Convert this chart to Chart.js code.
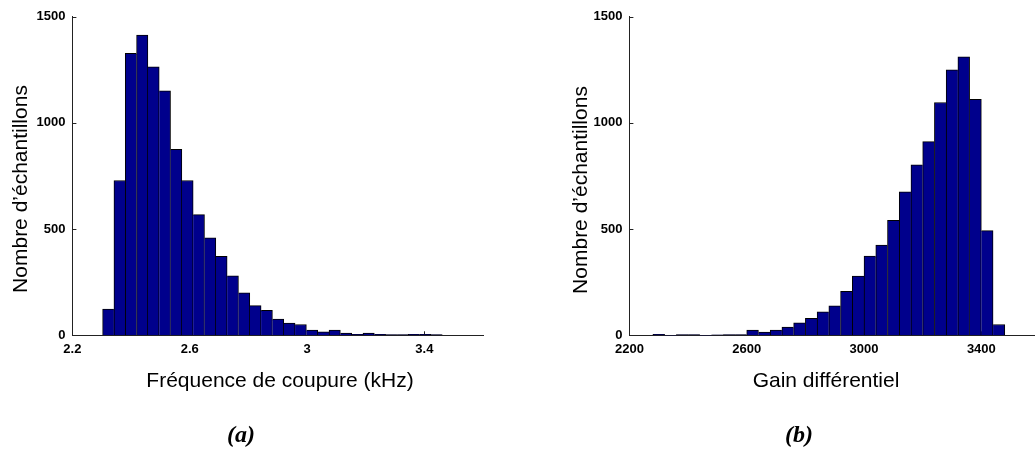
<!DOCTYPE html>
<html>
<head>
<meta charset="utf-8">
<script src="https://cdn.jsdelivr.net/npm/chart.js@4.4.0/dist/chart.umd.min.js"></script>
<style>
  html, body { margin: 0; padding: 0; background: #fff; overflow: hidden; width: 1035px; height: 455px; }
  #wrap { position: relative; width: 1035px; height: 455px; overflow: hidden; }
  canvas { position: absolute; top: 0; }
  #cA { left: 0; }
  #cB { left: 557px; }
</style>
</head>
<body>
<div id="wrap">
  <canvas id="cA" width="500" height="455"></canvas>
  <canvas id="cB" width="483" height="455"></canvas>
</div>
<script>
// (a) cutoff frequency histogram: bin centres (kHz) and sample counts
const binsA = [2.3223, 2.3609, 2.3995, 2.4381, 2.4767, 2.5153, 2.5539, 2.5925, 2.6311, 2.6697,
               2.7083, 2.7469, 2.7855, 2.8241, 2.8627, 2.9013, 2.9399, 2.9785, 3.0171, 3.0557,
               3.0943, 3.1329, 3.1715, 3.2101, 3.2487, 3.2873, 3.3259, 3.3645, 3.4031, 3.4417];
const countsA = [124, 729, 1327, 1414, 1264, 1151, 876, 729, 568, 459,
                 372, 280, 200, 140, 117, 76, 58, 51, 24, 16,
                 24, 11, 4, 11, 4, 3, 3, 4, 4, 3];
const xTicksA = [2.2, 2.6, 3, 3.4];

// (b) differential gain histogram: bin centres and sample counts
const binsB = [2300, 2340, 2380, 2420, 2460, 2500, 2540, 2580, 2620, 2660,
               2700, 2740, 2780, 2820, 2860, 2900, 2940, 2980, 3020, 3060,
               3100, 3140, 3180, 3220, 3260, 3300, 3340, 3380, 3420, 3460];
const countsB = [4, 0, 3, 3, 0, 2, 3, 3, 25, 15,
                 25, 39, 59, 80, 111, 139, 207, 279, 373, 425,
                 541, 675, 803, 912, 1096, 1250, 1311, 1111, 493, 51];
const xTicksB = [2200, 2600, 3000, 3400];

const yTicks = [0, 500, 1000, 1500];

const yTitle = "Nombre d’échantillons";
const xTitleA = "Fréquence de coupure (kHz)";
const xTitleB = "Gain différentiel";
const panelA = "(a)";
const panelB = "(b)";

const AXIS_COLOR = '#222';
const BAR_FILL = '#00008C';
const TICK_FONT = { family: 'Arial, "Liberation Sans", sans-serif', size: 13, weight: 'bold' };

// Outline each bar once per shared edge: the taller neighbour owns the edge.
function sideBorders(ctx) {
  const d = ctx.dataset.data;
  const i = ctx.dataIndex;
  const v = d[i].y;
  if (!v) return 0;
  const prev = i > 0 ? d[i - 1].y : -1;
  const next = i < d.length - 1 ? d[i + 1].y : -1;
  return { top: 1, bottom: 0, left: v >= prev ? 1 : 0, right: v > next ? 1 : 0 };
}

// Inward tick marks (under the bars) and the axis / panel captions.
const decorations = {
  id: 'decorations',
  beforeDatasetsDraw(chart, args, opts) {
    const { ctx, chartArea, scales: { x, y } } = chart;
    ctx.save();
    ctx.strokeStyle = AXIS_COLOR;
    ctx.lineWidth = 1;
    for (const v of yTicks) {
      if (v === 0) continue;
      const py = Math.round(y.getPixelForValue(v)) + 0.5;
      ctx.beginPath();
      ctx.moveTo(chartArea.left, py);
      ctx.lineTo(chartArea.left + 4, py);
      ctx.stroke();
    }
    for (const v of opts.xTicks) {
      const px = Math.round(x.getPixelForValue(v)) + 0.5;
      ctx.beginPath();
      ctx.moveTo(px, chartArea.bottom);
      ctx.lineTo(px, chartArea.bottom - 4);
      ctx.stroke();
    }
    ctx.restore();
  },
  afterDraw(chart, args, opts) {
    const { ctx } = chart;
    ctx.save();
    ctx.fillStyle = '#000';
    ctx.font = '21px Arial, "Liberation Sans", sans-serif';
    ctx.textAlign = 'center';
    ctx.textBaseline = 'alphabetic';
    // vertical axis caption
    ctx.save();
    ctx.translate(opts.yTitleX, opts.yTitleY);
    ctx.rotate(-Math.PI / 2);
    ctx.fillText(yTitle, 0, 0);
    ctx.restore();
    // horizontal axis caption
    ctx.fillText(opts.xTitle, opts.xTitleX, opts.xTitleY);
    // panel letter
    ctx.font = 'italic bold 24px "Times New Roman", "Liberation Serif", serif';
    ctx.fillText(opts.panel, opts.panelX, opts.panelY);
    ctx.restore();
  }
};

function histogram(canvasId, bins, counts, xTicks, xMin, xMax, padRight, deco) {
  return new Chart(document.getElementById(canvasId), {
    type: 'bar',
    data: {
      datasets: [{
        data: bins.map((b, i) => ({ x: b, y: counts[i] })),
        backgroundColor: BAR_FILL,
        borderColor: '#000',
        borderWidth: sideBorders,
        borderSkipped: false,
        barPercentage: 1,
        categoryPercentage: 1
      }]
    },
    options: {
      responsive: false,
      animation: false,
      devicePixelRatio: 1,
      events: [],
      layout: { autoPadding: false, padding: { top: 16.7, right: padRight, bottom: 0, left: 0 } },
      plugins: {
        legend: { display: false },
        tooltip: { enabled: false },
        decorations: Object.assign({ xTicks }, deco)
      },
      scales: {
        x: {
          type: 'linear',
          min: xMin,
          max: xMax,
          offset: false,
          grid: { display: false, drawTicks: false, offset: false },
          border: { display: true, color: AXIS_COLOR, width: 1 },
          ticks: { color: '#000', font: TICK_FONT, padding: 6, maxRotation: 0, callback: v => String(v) },
          afterBuildTicks: s => { s.ticks = xTicks.map(v => ({ value: v })); },
          afterFit: s => { s.height = 119.7; }
        },
        y: {
          type: 'linear',
          min: 0,
          max: 1500,
          grid: { display: false, drawTicks: false },
          border: { display: true, color: AXIS_COLOR, width: 1 },
          ticks: { color: '#000', font: TICK_FONT, padding: 7, callback: v => String(v) },
          afterBuildTicks: s => { s.ticks = yTicks.map(v => ({ value: v })); },
          afterFit: s => { s.width = 72.4; }
        }
      }
    },
    plugins: [decorations]
  });
}

histogram('cA', binsA, countsA, xTicksA, 2.2, 3.6, 17, {
  yTitleX: 27.3, yTitleY: 189,
  xTitle: xTitleA, xTitleX: 280, xTitleY: 387,
  panel: panelA, panelX: 241, panelY: 442
});

histogram('cB', binsB, countsB, xTicksB, 2200, 3600, 0, {
  yTitleX: 29.7, yTitleY: 190,
  xTitle: xTitleB, xTitleX: 269, xTitleY: 387,
  panel: panelB, panelX: 242, panelY: 442
});
</script>
</body>
</html>
